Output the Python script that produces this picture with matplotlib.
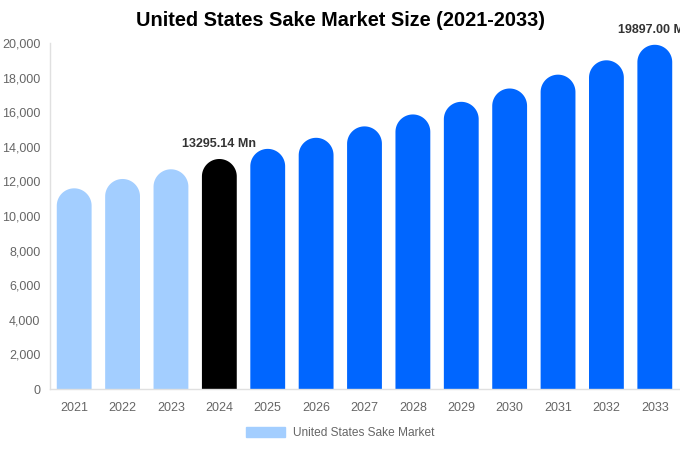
import matplotlib
matplotlib.use("Agg")
import numpy as np
import matplotlib.pyplot as plt
from matplotlib.patches import Polygon, Patch

plt.rcParams['font.family'] = ['Liberation Sans', 'DejaVu Sans']

years = ['2021', '2022', '2023', '2024', '2025', '2026', '2027',
         '2028', '2029', '2030', '2031', '2032', '2033']
values = [11600, 12140, 12700, 13295.14, 13880, 14520, 15180,
          15870, 16600, 17370, 18170, 19000, 19897.00]
colors = ['#A3CEFF'] * 3 + ['#000000'] + ['#0066FF'] * 9
labels = {3: '13295.14 Mn', 12: '19897.00 Mn'}
yticks = [0, 2000, 4000, 6000, 8000, 10000, 12000, 14000, 16000, 18000, 20000]

W, H = 680, 450
fig = plt.figure(figsize=(W / 100, H / 100), dpi=100)
ax = fig.add_axes([50 / W, 1 - 389 / H, 629 / W, 346 / H])

x = list(range(len(years)))
bw = 0.72
ax.set_xlim(-0.5, len(years) - 0.5)
ax.set_ylim(0, 20000)

# radius of the rounded cap in data units (vertical)
ax_h_px = 346
bar_px = bw * 629 / len(years)
r_data = (bar_px / 2) * 20000 / ax_h_px

theta = np.linspace(0, np.pi, 60)
for xi, v, c in zip(x, values, colors):
    yc = v - r_data
    arc_x = xi + (bw / 2) * np.cos(theta)
    arc_y = yc + r_data * np.sin(theta)
    px = np.concatenate([[xi + bw / 2], arc_x, [xi - bw / 2]])
    py = np.concatenate([[0], arc_y, [0]])
    ax.add_patch(Polygon(np.column_stack([px, py]), closed=True,
                         facecolor=c, edgecolor='none', linewidth=0))

for i, t in labels.items():
    ax.text(x[i], values[i] + 500, t, ha='center', va='bottom', fontsize=9,
            fontweight='bold', color='#333333', clip_on=False)

ax.set_xticks(x)
ax.set_xticklabels(years)
ax.set_yticks(yticks)
ax.set_yticklabels([f'{t:,}' for t in yticks])
ax.tick_params(axis='both', length=0, labelsize=9, colors='#666666')
ax.tick_params(axis='x', pad=9.5)
ax.tick_params(axis='y', pad=7)
for s in ['top', 'right']:
    ax.spines[s].set_visible(False)
for s in ['left', 'bottom']:
    ax.spines[s].set_color('#e0e0e0')
    ax.spines[s].set_linewidth(1)

fig.suptitle('United States Sake Market Size (2021-2033)', x=340 / W, y=1 - 11 / H,
             va='top', fontsize=14.3, fontweight='bold', color='#000000')

leg = fig.legend(handles=[Patch(color='#A3CEFF', label='United States Sake Market')],
                 loc='center', bbox_to_anchor=(340 / W, 1 - 433 / H), frameon=False,
                 fontsize=8.6, handlelength=3.3, handleheight=0.95, handletextpad=0.6)
for t in leg.get_texts():
    t.set_color('#666666')

fig.savefig('out.png', dpi=100)
